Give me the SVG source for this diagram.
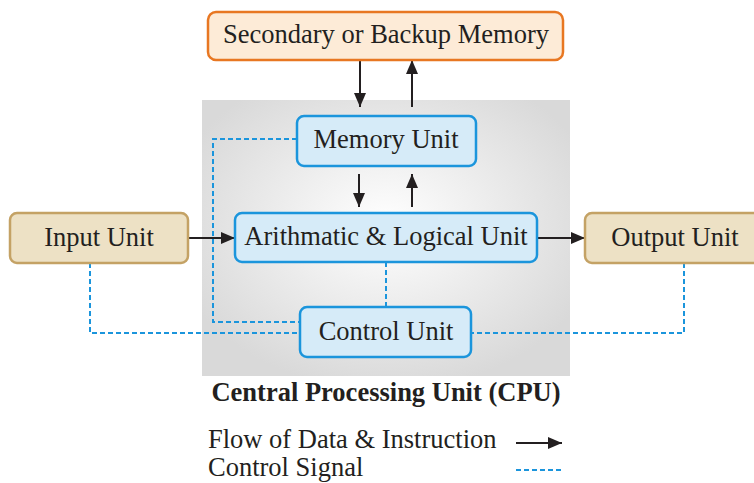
<svg xmlns="http://www.w3.org/2000/svg" width="754" height="483" viewBox="0 0 754 483">
<defs>
<radialGradient id="cpuGrad" cx="0.5" cy="0.45" r="0.6">
<stop offset="0" stop-color="#ffffff"/>
<stop offset="1" stop-color="#d9d9d9"/>
</radialGradient>
<marker id="arr" viewBox="0 0 14 12" refX="14" refY="6" markerWidth="14" markerHeight="12" markerUnits="userSpaceOnUse" orient="auto">
<path d="M0,0 L14,6 L0,12 z" fill="#231f20"/>
</marker>
</defs>
<style>
.t{font-family:"Liberation Serif","Times New Roman",serif;fill:#231f20;font-size:26.5px;text-anchor:middle}
.mem{fill:#fdebd7;stroke:#e87722;stroke-width:2.5}
.io{fill:#ede1c5;stroke:#c4a265;stroke-width:2.5}
.cpu{fill:#d6ebf8;stroke:#1b95dc;stroke-width:2.5}
.flow{stroke:#231f20;stroke-width:2;fill:none;marker-end:url(#arr)}
.ctl{stroke:#1b95dc;stroke-width:2;fill:none;stroke-dasharray:5,3}
</style>
<rect x="202" y="100" width="368" height="276" fill="url(#cpuGrad)"/>
<g id="connectors">
<path class="flow" d="M360,60 V107"/>
<path class="flow" d="M412,107 V60"/>
<path class="flow" d="M359,174 V207"/>
<path class="flow" d="M412,207 V174"/>
<path class="flow" d="M188,238 H235"/>
<path class="flow" d="M537,238 H585"/>
<path class="ctl" d="M386,262 V307"/>
<path class="ctl" d="M297,139 H213 V322 H300"/>
<path class="ctl" d="M90,263 V333 H300"/>
<path class="ctl" d="M684,263 V333 H471"/>
</g>
<g id="secondary">
<rect class="mem" x="208" y="12" width="355" height="48" rx="8"/>
<text class="t" x="386" y="43">Secondary or Backup Memory</text>
</g>
<g id="memory">
<rect class="cpu" x="297" y="116" width="179" height="50" rx="7"/>
<text class="t" x="386" y="148">Memory Unit</text>
</g>
<g id="alu">
<rect class="cpu" x="235" y="213" width="302" height="49" rx="7"/>
<text class="t" x="386" y="245">Arithmatic &amp; Logical Unit</text>
</g>
<g id="control">
<rect class="cpu" x="300" y="307" width="171" height="50" rx="7"/>
<text class="t" x="386" y="340">Control Unit</text>
</g>
<g id="input">
<rect class="io" x="10" y="213" width="178" height="50" rx="7"/>
<text class="t" x="99" y="246">Input Unit</text>
</g>
<g id="output">
<rect class="io" x="585" y="213" width="178" height="50" rx="7"/>
<text class="t" x="675" y="246">Output Unit</text>
</g>
<text class="t" x="386" y="401" style="font-weight:bold">Central Processing Unit (CPU)</text>
<g id="legend">
<text class="t" x="208" y="448" style="text-anchor:start">Flow of Data &amp; Instruction</text>
<text class="t" x="208" y="476" style="text-anchor:start">Control Signal</text>
<path class="flow" d="M516,443 H562"/>
<path class="ctl" d="M516,470 H562"/>
</g>
</svg>
